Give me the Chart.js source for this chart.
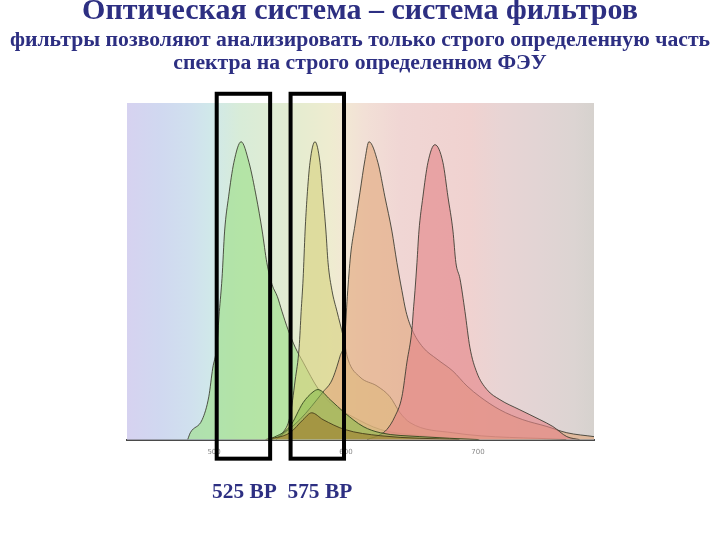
<!DOCTYPE html>
<html><head><meta charset="utf-8">
<script src="https://cdn.jsdelivr.net/npm/chart.js@4"></script>
<style>
body{margin:0;width:720px;height:540px;background:#fff;position:relative;overflow:hidden}
canvas{position:absolute;left:0;top:0}
.t{position:absolute;left:0;width:720px;text-align:center;font-family:"Liberation Serif","Times New Roman",serif;font-weight:bold;color:#2d2f82;white-space:nowrap}
</style></head>
<body>
<canvas id="c" width="720" height="540"></canvas>
<div class="t" style="top:-6px;font-size:30px;line-height:30px">Оптическая система – система фильтров</div>
<div class="t" style="top:27px;font-size:21.7px;line-height:24px">фильтры позволяют анализировать только строго определенную часть</div>
<div class="t" style="top:50px;font-size:21.7px;line-height:24px">спектра на строго определенном ФЭУ</div>
<div id="flabels" class="t" style="top:479px;left:212px;width:auto;text-align:left;font-size:21.4px;line-height:24px"></div>
<script>
// ---- data (wavelength in nm, relative emission) ----
const xTicks = [500, 600, 700];
const filterNames = ['525 BP', '575 BP'];
const filterLo = [502, 558];
const filterHi = [542.5, 598.5];

const fitcWl  = [480, 482, 491, 496, 499, 502, 504, 506, 508, 511, 515, 520.5, 526.5, 532, 536.5, 540, 544, 548, 551.5, 556, 561.5, 567.5, 579, 589, 605, 626, 660, 700];
const fitcVal = [0, 0.023, 0.067, 0.144, 0.24, 0.31, 0.43, 0.54, 0.70, 0.815, 0.93, 1.0, 0.93, 0.815, 0.70, 0.594, 0.52, 0.48, 0.43, 0.37, 0.31, 0.26, 0.17, 0.12, 0.077, 0.034, 0.012, 0];

const peWl  = [544, 552, 557.5, 561.5, 564.5, 566, 567.5, 569, 570.5, 572.7, 576.5, 580.3, 582.6, 584.8, 586.4, 589.4, 593.2, 597.7, 601.5, 610.6, 623.5, 633.3, 641, 648.5, 681, 767];
const peVal = [0, 0.023, 0.077, 0.2, 0.31, 0.43, 0.54, 0.70, 0.815, 0.93, 1.0, 0.93, 0.815, 0.70, 0.594, 0.50, 0.43, 0.35, 0.27, 0.21, 0.18, 0.144, 0.09, 0.057, 0.023, 0];

const peTrWl  = [547, 565, 582.6, 589.4, 595.5, 599, 601, 603.5, 606.8, 610.6, 614.4, 617.4, 624.2, 629.5, 634.8, 638.6, 642.4, 645.5, 650, 658.3, 669, 681, 691.7, 701.5, 716.7, 734, 752.3, 767.4, 788];
const peTrVal = [0, 0.067, 0.16, 0.2, 0.28, 0.34, 0.48, 0.62, 0.72, 0.83, 0.94, 1.0, 0.93, 0.815, 0.70, 0.594, 0.50, 0.43, 0.37, 0.31, 0.27, 0.23, 0.18, 0.144, 0.10, 0.067, 0.044, 0.023, 0.01];

const peCy5Wl  = [616, 626, 631, 637, 642.4, 646.2, 650, 651, 652.3, 653.8, 655.3, 658.3, 662.1, 667.4, 673.5, 677.3, 681.1, 683.3, 686.4, 690.2, 693.9, 699.2, 706.8, 716.7, 731.8, 747, 756.8, 767.4, 777];
const peCy5Val = [0, 0.017, 0.034, 0.077, 0.144, 0.26, 0.37, 0.43, 0.50, 0.594, 0.70, 0.815, 0.93, 0.99, 0.93, 0.815, 0.70, 0.594, 0.54, 0.43, 0.31, 0.225, 0.168, 0.134, 0.10, 0.067, 0.044, 0.01, 0];

const spill1Wl  = [542, 557.5, 567.5, 575, 578.8, 588, 599, 613, 626, 656, 701];
const spill1Val = [0, 0.044, 0.124, 0.16, 0.168, 0.134, 0.09, 0.044, 0.023, 0.01, 0];

const spill2Wl  = [539, 557.5, 567.5, 574, 582.6, 599, 626, 686];
const spill2Val = [0, 0.023, 0.067, 0.09, 0.067, 0.034, 0.013, 0];

// ---- styles ----
const bgStops = [
  [434,'#d6d2f0'],[459,'#d0d8f0'],[482,'#d0e0ee'],[497,'#d0e8ea'],[520,'#d8ecd8'],[546,'#e0ecd4'],
  [565,'#e6ecd0'],[588,'#eeecd0'],[599,'#f2e8d4'],[614,'#f2e0d6'],[641,'#f0d6d4'],[694,'#f0d2d0'],
  [717,'#e8d4d4'],[747,'#e2d4d4'],[773,'#dcd4d2'],[788,'#d6d2ce']];

function pts(xs, ys){ return xs.map((x,i)=>({x:x, y:ys[i]})); }
function ds(label, xs, ys, fill, order, line){
  return {label, order, data: pts(xs, ys), fill:'origin', backgroundColor: fill,
    borderColor: line || 'rgba(55,55,45,0.85)', borderWidth:1, pointRadius:0,
    cubicInterpolationMode:'monotone'};
}

const bgPlugin = {
  id:'bg',
  beforeDatasetsDraw(chart){
    const {ctx, chartArea:a, scales:{x}} = chart;
    const g = ctx.createLinearGradient(a.left,0,a.right,0);
    const w = a.right - a.left;
    bgStops.forEach(([wl,c])=>{
      const p = (x.getPixelForValue(wl)-a.left)/w;
      g.addColorStop(Math.min(1,Math.max(0,p)), c);
    });
    ctx.save(); ctx.fillStyle = g; ctx.fillRect(a.left,a.top,w,a.bottom-a.top); ctx.restore();
  }
};
const boxPlugin = {
  id:'boxes',
  afterDraw(chart){
    const {ctx, scales:{x,y}} = chart;
    ctx.save(); ctx.strokeStyle='#000'; ctx.lineWidth=4;
    const top = y.getPixelForValue(1.161), bot = y.getPixelForValue(-0.064);
    filterLo.forEach((lo,i)=>{
      const l = x.getPixelForValue(lo), r = x.getPixelForValue(filterHi[i]);
      ctx.strokeRect(l, top, r-l, bot-top);
    });
    ctx.restore();
  }
};

document.getElementById('flabels').textContent = filterNames.join('\u00a0\u00a0');

new Chart(document.getElementById('c'), {
  type:'line',
  data:{ datasets:[
    ds('FITC', fitcWl, fitcVal, 'rgba(156,223,136,0.62)', 5),
    ds('PE', peWl, peVal, 'rgba(214,210,128,0.62)', 4),
    ds('PE-Texas Red', peTrWl, peTrVal, 'rgba(226,168,125,0.62)', 3),
    ds('PE-Cy5', peCy5Wl, peCy5Val, 'rgba(227,132,135,0.62)', 2),
    ds('spill 1', spill1Wl, spill1Val, 'rgba(135,185,75,0.55)', 1, 'rgba(50,70,30,0.9)'),
    ds('spill 2', spill2Wl, spill2Val, 'rgba(160,130,50,0.65)', 0, 'rgba(70,60,25,0.9)')
  ]},
  options:{
    responsive:false, animation:false,
    layout:{padding:{left:127, right:126, top:103, bottom:76}},
    plugins:{legend:{display:false}, tooltip:{enabled:false}, title:{display:false}},
    scales:{
      x:{type:'linear', min:434, max:788,
         afterBuildTicks(s){ s.ticks = xTicks.map(v=>({value:v})); },
         grid:{display:false, drawTicks:false},
         border:{display:true, color:'#4a4a4a', width:2},
         ticks:{color:'#8a8a8a', font:{size:7, family:'DejaVu Sans'}, padding:8, maxRotation:0}},
      y:{display:false, min:0, max:1.13}
    }
  },
  plugins:[bgPlugin, boxPlugin]
});
</script>
</body></html>
